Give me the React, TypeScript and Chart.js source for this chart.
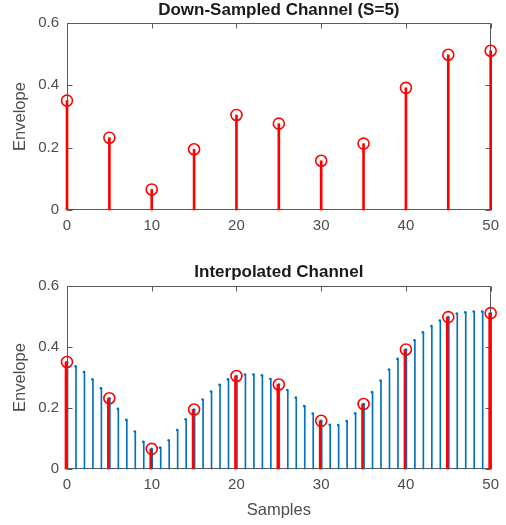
import React, { useEffect, useRef } from 'react';
import { Chart, registerables } from 'chart.js';

Chart.register(...registerables);

const FONT = "Arial, 'Liberation Sans', Helvetica, sans-serif";

const topTitle = 'Down-Sampled Channel (S=5)';
const bottomTitle = 'Interpolated Channel';
const yLabel = 'Envelope';
const xLabel = 'Samples';

const downSamples = [0, 5, 10, 15, 20, 25, 30, 35, 40, 45, 50];
const downValues = [0.351, 0.232, 0.066, 0.195, 0.305, 0.277, 0.158, 0.213, 0.392, 0.498, 0.511];

const interpSamples = [
  0, 1, 2, 3, 4, 5, 6, 7, 8, 9,
  10, 11, 12, 13, 14, 15, 16, 17, 18, 19,
  20, 21, 22, 23, 24, 25, 26, 27, 28, 29,
  30, 31, 32, 33, 34, 35, 36, 37, 38, 39,
  40, 41, 42, 43, 44, 45, 46, 47, 48, 49,
  50,
];
const interpValues = [
  0.351, 0.337, 0.318, 0.294, 0.265, 0.232, 0.197, 0.161, 0.123, 0.089,
  0.066, 0.070, 0.094, 0.128, 0.163, 0.195, 0.228, 0.254, 0.276, 0.294,
  0.305, 0.310, 0.310, 0.307, 0.295, 0.277, 0.259, 0.234, 0.206, 0.182,
  0.158, 0.145, 0.144, 0.157, 0.183, 0.213, 0.252, 0.290, 0.326, 0.361,
  0.392, 0.422, 0.448, 0.469, 0.487, 0.498, 0.510, 0.514, 0.516, 0.516,
  0.511,
];

const xTicks = [0, 10, 20, 30, 40, 50];
const yTicks = [0, 0.2, 0.4, 0.6];

const RED = '#ff0000';
const BLUE = '#0072bd';
const AXIS = '#5a5a5a';
const TICK_TEXT = '#4d4d4d';

const boxPlugin = {
  id: 'matlabBox',
  beforeDatasetsDraw(chart: any) {
    const { ctx, chartArea: a, scales } = chart;
    ctx.save();
    ctx.strokeStyle = AXIS;
    ctx.lineWidth = 1;
    const l = Math.round(a.left) + 0.5;
    const r = Math.round(a.right) - 0.5;
    const t = Math.round(a.top) + 0.5;
    const b = Math.round(a.bottom) - 0.5;
    ctx.beginPath();
    ctx.rect(l, t, r - l, b - t);
    const tl = 5;
    xTicks.forEach((v) => {
      const px = Math.round(scales.x.getPixelForValue(v)) + 0.5;
      ctx.moveTo(px, b);
      ctx.lineTo(px, b - tl);
      ctx.moveTo(px, t);
      ctx.lineTo(px, t + tl);
    });
    yTicks.forEach((v) => {
      const py = Math.round(scales.y.getPixelForValue(v)) + 0.5;
      ctx.moveTo(l, py);
      ctx.lineTo(l + tl, py);
      ctx.moveTo(r, py);
      ctx.lineTo(r - tl, py);
    });
    ctx.stroke();
    ctx.restore();
  },
};

function pts(xs: number[], ys: number[]) {
  return xs.map((x, i) => ({ x, y: ys[i] }));
}

function baseOptions(title: string, titlePad: { top: number; bottom: number }, xHeight: number, showXLabel: boolean) {
  return {
    animation: false,
    responsive: false,
    maintainAspectRatio: false,
    layout: { padding: { top: 0, left: 0, right: 14, bottom: 0 } },
    plugins: {
      legend: { display: false },
      tooltip: { enabled: false },
      title: {
        display: true,
        text: title,
        fullSize: false,
        color: '#1a1a1a',
        font: { family: FONT, size: 17, weight: 'bold' },
        padding: titlePad,
      },
    },
    scales: {
      x: {
        type: 'linear',
        min: 0,
        max: 50,
        offset: false,
        grid: { display: false, drawTicks: false },
        border: { display: false },
        ticks: {
          stepSize: 10,
          padding: 7,
          color: TICK_TEXT,
          font: { family: FONT, size: 15 },
          maxRotation: 0,
        },
        title: {
          display: showXLabel,
          text: xLabel,
          color: TICK_TEXT,
          font: { family: FONT, size: 16.5 },
          padding: { top: 0, bottom: 5 },
        },
        afterFit: (s: any) => {
          s.height = xHeight;
        },
      },
      y: {
        min: 0,
        max: 0.6,
        grid: { display: false, drawTicks: false },
        border: { display: false },
        ticks: {
          stepSize: 0.2,
          padding: 8,
          color: TICK_TEXT,
          font: { family: FONT, size: 15 },
        },
        title: {
          display: true,
          text: yLabel,
          color: TICK_TEXT,
          font: { family: FONT, size: 16.5 },
          padding: { top: 11, bottom: 0 },
        },
        afterFit: (s: any) => {
          s.width = 67;
        },
      },
    },
  };
}

function redDatasets(downPts: any[]) {
  return [
    {
      type: 'line',
      data: downPts,
      showLine: false,
      pointStyle: 'circle',
      pointRadius: 5.5,
      pointBorderWidth: 1.6,
      pointBorderColor: RED,
      pointBackgroundColor: 'rgba(0,0,0,0)',
      borderColor: RED,
      order: 0,
      clip: false,
    },
    {
      type: 'bar',
      data: downPts,
      backgroundColor: RED,
      barThickness: 2,
      borderWidth: 0,
      order: 1,
      clip: false,
    },
  ];
}

export default function App() {
  const topRef = useRef<HTMLCanvasElement>(null);
  const botRef = useRef<HTMLCanvasElement>(null);

  useEffect(() => {
    const downPts = pts(downSamples, downValues);
    const interpPts = pts(interpSamples, interpValues);

    const top = new Chart(topRef.current as HTMLCanvasElement, {
      type: 'bar',
      data: { datasets: redDatasets(downPts) } as any,
      options: baseOptions(topTitle, { top: 0, bottom: 2.6 }, 40, false) as any,
      plugins: [boxPlugin],
    });

    const bottom = new Chart(botRef.current as HTMLCanvasElement, {
      type: 'bar',
      data: {
        datasets: [
          ...redDatasets(downPts),
          {
            type: 'line',
            data: interpPts,
            showLine: false,
            pointStyle: 'circle',
            pointRadius: 1.3,
            pointBorderWidth: 0,
            pointBackgroundColor: BLUE,
            borderColor: BLUE,
            order: 2,
            clip: false,
          },
          {
            type: 'bar',
            data: interpPts,
            backgroundColor: BLUE,
            barThickness: 1,
            borderWidth: 0,
            order: 3,
            clip: false,
          },
        ],
      } as any,
      options: baseOptions(bottomTitle, { top: 12.3, bottom: 3.3 }, 56, true) as any,
      plugins: [boxPlugin],
    });

    return () => {
      top.destroy();
      bottom.destroy();
    };
  }, []);

  return (
    <div style={{ position: 'absolute', left: 0, top: 0, width: 506, height: 525, background: '#fff' }}>
      <canvas ref={topRef} width={506} height={250} style={{ position: 'absolute', left: 0, top: 0 }} />
      <canvas ref={botRef} width={506} height={275} style={{ position: 'absolute', left: 0, top: 250 }} />
    </div>
  );
}
